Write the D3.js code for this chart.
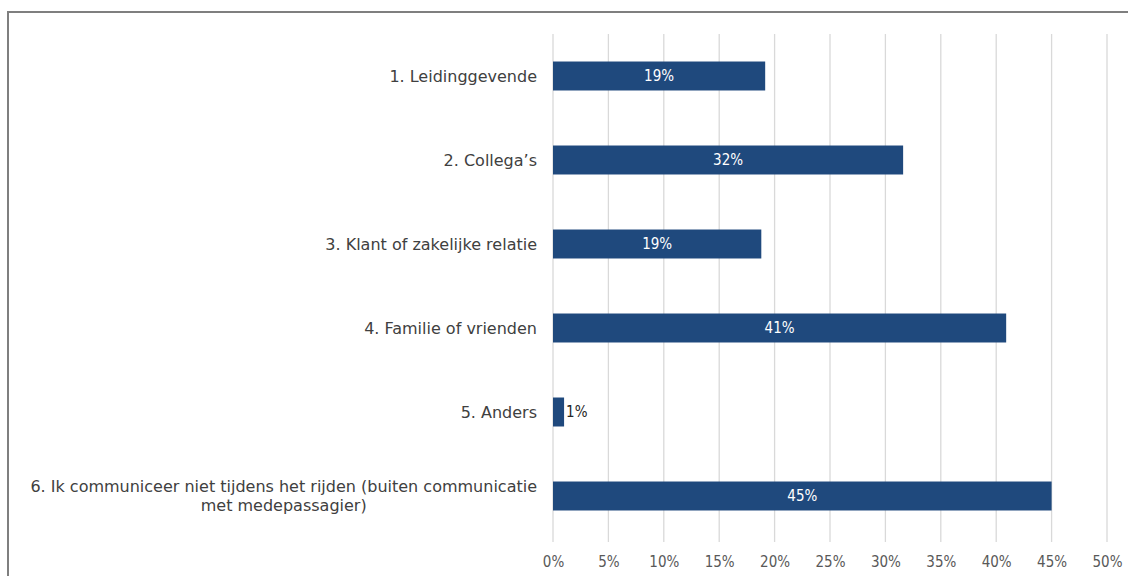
<!DOCTYPE html>
<html>
<head>
<meta charset="utf-8">
<script src="https://cdn.jsdelivr.net/npm/d3@7"></script>
<style>
  body { margin: 0; background: #fff; }
  svg { display: block; font-family: "DejaVu Sans", sans-serif; }
</style>
</head>
<body>
<div id="chart"></div>
<script>
const categories = [
  ['1. Leidinggevende'],
  ['2. Collega\u2019s'],
  ['3. Klant of zakelijke relatie'],
  ['4. Familie of vrienden'],
  ['5. Anders'],
  ['6. Ik communiceer niet tijdens het rijden (buiten communicatie', 'met medepassagier)']
];
const values = [19.15, 31.6, 18.8, 40.9, 1.0, 45.0];
const valueLabels = ['19%', '32%', '19%', '41%', '1%', '45%'];
const ticks = [0, 5, 10, 15, 20, 25, 30, 35, 40, 45, 50];

const W = 1128, H = 576;
const margin = {top: 34, right: 21, bottom: 38, left: 553};

const svg = d3.select('#chart').append('svg')
  .attr('width', W)
  .attr('height', H);

// outer chart border (runs past the viewport on right and bottom)
svg.append('rect')
  .attr('x', 8).attr('y', 12)
  .attr('width', W + 20).attr('height', H + 20)
  .attr('fill', 'none')
  .attr('stroke', '#7f7f7f')
  .attr('stroke-width', 2);

const x = d3.scaleLinear().domain([0, 50]).range([margin.left, W - margin.right]);
const y = d3.scaleBand().domain(d3.range(categories.length))
  .range([margin.top, H - margin.bottom]).paddingInner(0.655).paddingOuter(0.3275);

// gridlines
svg.append('g')
  .selectAll('line')
  .data(ticks)
  .join('line')
    .attr('x1', (d) => x(d)).attr('x2', (d) => x(d))
    .attr('y1', margin.top).attr('y2', H - margin.bottom + 4)
    .attr('stroke', '#d9d9d9')
    .attr('stroke-width', 1.3);

// x axis labels
const xAxis = d3.axisBottom(x).tickValues(ticks).tickFormat((d) => d + '%').tickSize(0).tickPadding(18);
const gx = svg.append('g')
  .attr('transform', `translate(0, ${H - margin.bottom})`)
  .call(xAxis);
gx.select('.domain').remove();
gx.selectAll('text')
  .attr('fill', '#595959')
  .style('font-size', '15px')
  .style('font-family', '"DejaVu Sans Condensed", "DejaVu Sans", sans-serif');

// bars
svg.append('g')
  .selectAll('rect')
  .data(values)
  .join('rect')
    .attr('x', x(0))
    .attr('y', (d, i) => y(i))
    .attr('width', (d) => x(d) - x(0))
    .attr('height', y.bandwidth())
    .attr('fill', '#1f497d');

// value labels
svg.append('g')
  .selectAll('text')
  .data(values)
  .join('text')
    .attr('x', (d) => d < 3 ? x(d) + 2 : x(0) + (x(d) - x(0)) / 2)
    .attr('y', (d, i) => y(i) + y.bandwidth() / 2)
    .attr('dy', '0.35em')
    .attr('text-anchor', (d) => d < 3 ? 'start' : 'middle')
    .attr('fill', (d) => d < 3 ? '#262626' : '#ffffff')
    .style('font-size', '15px')
    .style('font-family', '"DejaVu Sans Condensed", "DejaVu Sans", sans-serif')
    .text((d, i) => valueLabels[i]);

// category labels (right-aligned block, wrapped lines centred)
const labelRight = 537;
const lineH = 19;
categories.forEach((lines, i) => {
  const cy = y(i) + y.bandwidth() / 2;
  const g = svg.append('g');
  const first = g.append('text')
    .attr('x', labelRight)
    .attr('y', cy - (lines.length - 1) * lineH / 2)
    .attr('dy', '0.35em')
    .attr('text-anchor', 'end')
    .attr('fill', '#404040')
    .style('font-size', '16px')
    .text(lines[0]);
  if (lines.length > 1) {
    const w1 = first.node().getComputedTextLength();
    lines.slice(1).forEach((ln, k) => {
      g.append('text')
        .attr('x', labelRight - w1 / 2)
        .attr('y', cy - (lines.length - 1) * lineH / 2 + (k + 1) * lineH)
        .attr('dy', '0.35em')
        .attr('text-anchor', 'middle')
        .attr('fill', '#404040')
        .style('font-size', '16px')
        .text(ln);
    });
  }
});
</script>
</body>
</html>
